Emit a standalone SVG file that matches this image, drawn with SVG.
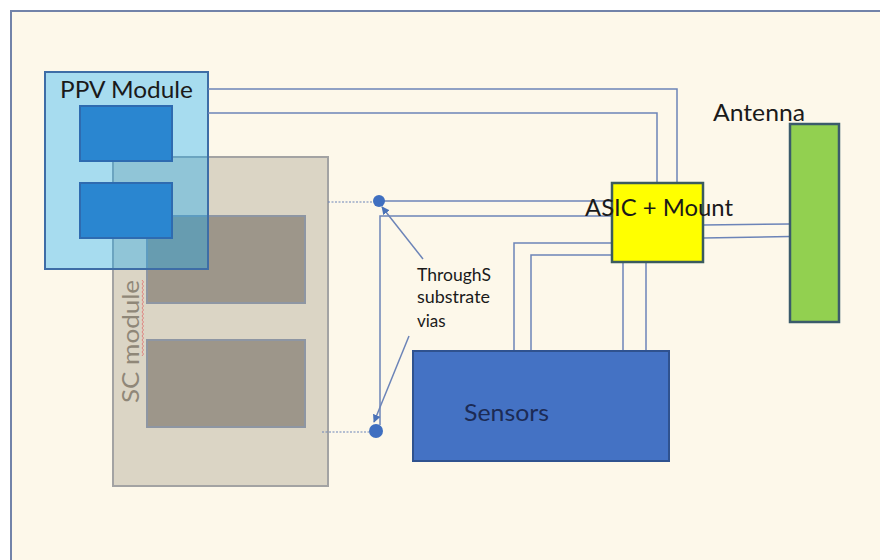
<svg xmlns="http://www.w3.org/2000/svg" width="880" height="560" viewBox="0 0 880 560">
  <defs>
    <style>
      .lbl { font-family: Lato, "Liberation Sans", Arial, sans-serif; fill: #1a1a1a; }
      .big { font-size: 23px; }
      .small { font-size: 17px; }
      .wire { fill: none; stroke: #6c84b8; stroke-width: 1.5; }
      .dash { fill: none; stroke: #6c84b8; stroke-width: 1.2; stroke-dasharray: 2 1.5; }
      .via { fill: #3f6fc0; }
      .callout { fill: none; stroke: #6c84b8; stroke-width: 1.5; marker-end: url(#arr); }
    </style>
    <marker id="arr" viewBox="0 0 10 10" refX="9" refY="5" markerWidth="8" markerHeight="8" orient="auto" markerUnits="userSpaceOnUse">
      <path d="M0,0 L10,5 L0,10 z" fill="#4a72b8"/>
    </marker>
  </defs>

  <rect x="0" y="0" width="880" height="560" fill="#ffffff"/>
  <rect id="frame" x="11" y="11" width="900" height="600" fill="#fdf8ea" stroke="#7283a9" stroke-width="2"/>

  <g id="sc-module">
    <rect x="113" y="157" width="215" height="329" fill="#dbd5c5" stroke="#a3a3a3" stroke-width="2"/>
    <rect x="147" y="216" width="158" height="87" fill="#9d968a" stroke="#8e96a3" stroke-width="2"/>
    <rect x="147" y="340" width="158" height="87" fill="#9d968a" stroke="#8e96a3" stroke-width="2"/>
    <text class="lbl big" transform="translate(139,403) rotate(-90)" x="0" y="0" textLength="123" lengthAdjust="spacingAndGlyphs" style="fill:#8f8778">SC module</text>
    <path d="M142,280 l1.5,2 l-1.5,2 l1.5,2 l-1.5,2 l1.5,2 l-1.5,2 l1.5,2 l-1.5,2 l1.5,2 l-1.5,2 l1.5,2 l-1.5,2 l1.5,2 l-1.5,2 l1.5,2 l-1.5,2 l1.5,2 l-1.5,2 l1.5,2 l-1.5,2 l1.5,2 l-1.5,2 l1.5,2 l-1.5,2 l1.5,2 l-1.5,2 l1.5,2 l-1.5,2 l1.5,2 l-1.5,2 l1.5,2 l-1.5,2 l1.5,2 l-1.5,2 l1.5,2 l-1.5,2 l1.5,2 l-1.5,2" fill="none" stroke="#e07070" stroke-width="0.8"/>
  </g>

  <g id="ppv-module">
    <rect x="45" y="72" width="163" height="197" fill="#00a7fa" fill-opacity="0.34" stroke="#3e6da6" stroke-width="2"/>
    <rect x="80" y="106" width="92" height="55" fill="#2a86d0" stroke="#2e6bb0" stroke-width="2"/>
    <rect x="80" y="183" width="92" height="55" fill="#2a86d0" stroke="#2e6bb0" stroke-width="2"/>
    <text class="lbl big" x="60" y="98" textLength="133" lengthAdjust="spacingAndGlyphs">PPV Module</text>
  </g>

  <g id="connectors">
    <polyline class="wire" points="208,89 677,89 677,183"/>
    <polyline class="wire" points="208,113 657,113 657,183"/>
    <line class="wire" x1="703" y1="225" x2="790" y2="224"/>
    <line class="wire" x1="703" y1="238" x2="790" y2="236.5"/>
    <polyline class="wire" points="612,243 514,243 514,351"/>
    <polyline class="wire" points="612,255 531,255 531,351"/>
    <line class="wire" x1="623" y1="262" x2="623" y2="351"/>
    <line class="wire" x1="646" y1="262" x2="646" y2="351"/>
    <line class="wire" x1="379" y1="201" x2="612" y2="201"/>
    <polyline class="wire" points="612,216 380,216 380,425"/>
    <line class="dash" x1="328" y1="202" x2="373" y2="202"/>
    <line class="dash" x1="322" y1="432" x2="370" y2="432"/>
    <line class="callout" x1="423" y1="259" x2="382" y2="207"/>
    <line class="callout" x1="409" y1="336" x2="374" y2="422"/>
  </g>

  <g id="via-top">
    <circle class="via" cx="379" cy="201" r="6"/>
  </g>
  <g id="via-bottom">
    <circle class="via" cx="376" cy="431" r="7"/>
  </g>

  <g id="via-label">
    <text class="lbl small" x="417" y="281" textLength="74" lengthAdjust="spacingAndGlyphs">ThroughS</text>
    <text class="lbl small" x="417" y="303" textLength="73" lengthAdjust="spacingAndGlyphs">substrate</text>
    <text class="lbl small" x="417" y="327">vias</text>
  </g>

  <g id="asic">
    <rect x="612" y="183" width="91" height="79" fill="#ffff00" stroke="#3b5b5e" stroke-width="2.5"/>
    <text class="lbl big" x="585" y="216" textLength="148" lengthAdjust="spacingAndGlyphs">ASIC + Mount</text>
  </g>

  <g id="antenna">
    <rect x="790" y="124" width="49" height="198" fill="#92d050" stroke="#3b5b6b" stroke-width="2.5"/>
    <text class="lbl big" x="713" y="121" textLength="92" lengthAdjust="spacingAndGlyphs">Antenna</text>
  </g>

  <g id="sensors">
    <rect x="413" y="351" width="256" height="110" fill="#4472c4" stroke="#2f528f" stroke-width="2"/>
    <text class="lbl big" x="464" y="421" textLength="85" lengthAdjust="spacingAndGlyphs" style="fill:#1c2b55">Sensors</text>
  </g>
</svg>
